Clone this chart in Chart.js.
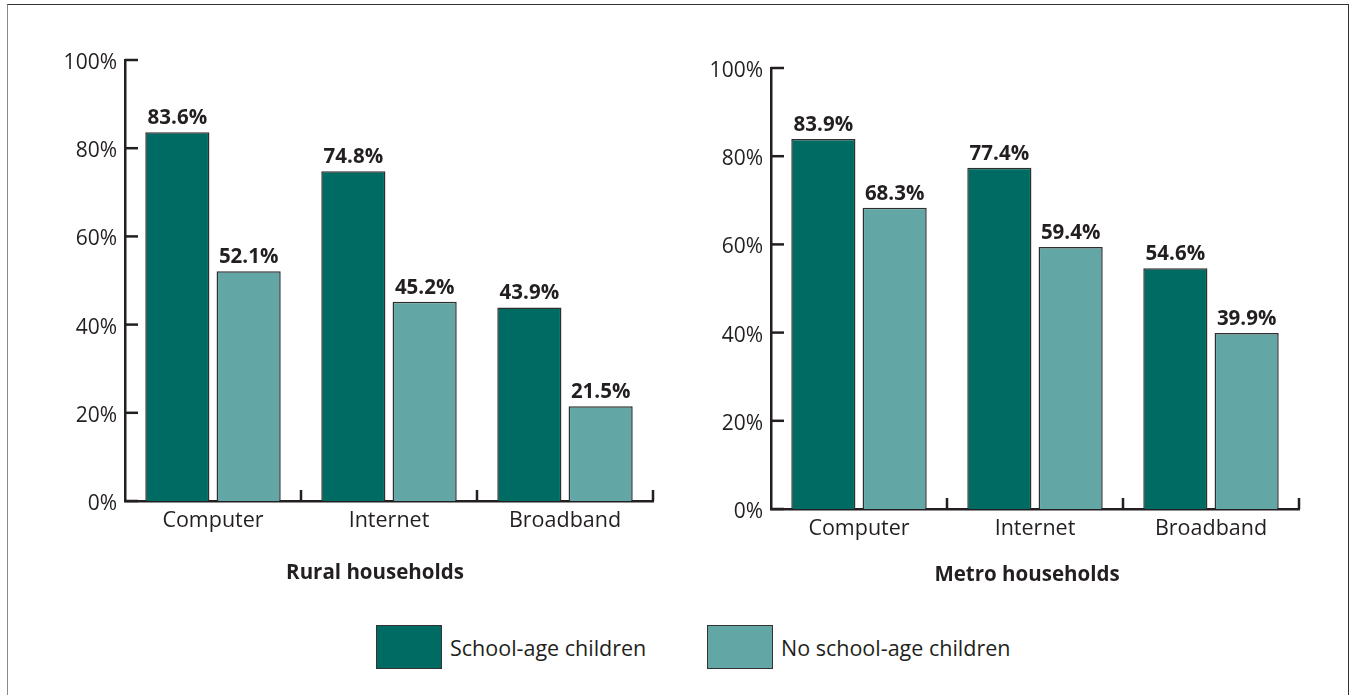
<!DOCTYPE html>
<html>
<head>
<meta charset="utf-8">
<script src="https://cdn.jsdelivr.net/npm/chart.js@4.4.1/dist/chart.umd.min.js"></script>
<style>
  html, body { margin: 0; padding: 0; background: #fff; }
  body { width: 1350px; height: 695px; position: relative; overflow: hidden; font-family: "Open Sans", sans-serif; color: #231f20; }
  .frame { position: absolute; left: 7px; top: 4px; width: 1340px; height: 720px; border: 1.5px solid #333; border-left-color: #8a8a8a; }
  .panel { position: absolute; }
  .legend { position: absolute; top: 625px; display: flex; align-items: center; font-size: 21.5px; }
  .legend span.box { display: inline-block; width: 64px; height: 42px; border: 1.5px solid #333; margin-right: 8px; }
</style>
</head>
<body>
<div class="frame"></div>
<div class="panel" style="left:0px; top:0px;"><canvas id="grafRural" width="680" height="600"></canvas></div>
<div class="panel" style="left:646px; top:8px;"><canvas id="grafMetro" width="680" height="600"></canvas></div>
<div class="legend" style="left:376px;"><span class="box" style="background:#006b63"></span>School-age children</div>
<div class="legend" style="left:707px;"><span class="box" style="background:#62a6a5"></span>No school-age children</div>

<script>
// data
const kategorie = ['Computer', 'Internet', 'Broadband'];
const serie = ['School-age children', 'No school-age children'];
const ruralSkolni = [83.6, 74.8, 43.9];
const ruralBez = [52.1, 45.2, 21.5];
const metroSkolni = [83.9, 77.4, 54.6];
const metroBez = [68.3, 59.4, 39.9];
const yTicky = [0, 20, 40, 60, 80, 100];

const TMAVA = '#006b63';
const SVETLA = '#62a6a5';
const TEXT = '#231f20';

// values above bars, inward tick marks and the panel caption
const popisky = {
    id: 'popisky',
    afterDatasetsDraw(chart) {
        const ctx = chart.ctx;
        ctx.save();
        ctx.fillStyle = TEXT;
        ctx.font = 'bold 20.5px "Open Sans"';
        ctx.textAlign = 'center';
        ctx.textBaseline = 'alphabetic';
        chart.data.datasets.forEach((ds, i) => {
            chart.getDatasetMeta(i).data.forEach((bar, j) => {
                ctx.fillText(ds.data[j].toFixed(1) + '%', bar.x, bar.y - 8);
            });
        });
        ctx.restore();
    },
    afterDraw(chart, args, opts) {
        const {ctx, chartArea: a, scales: {x, y}} = chart;
        ctx.save();
        ctx.strokeStyle = TEXT;
        ctx.lineWidth = 2.5;
        yTicky.forEach(v => {
            const py = y.getPixelForValue(v);
            ctx.beginPath();
            ctx.moveTo(a.left, py);
            ctx.lineTo(a.left + 13, py);
            ctx.stroke();
        });
        const n = kategorie.length;
        for (let i = 1; i <= n; i++) {
            const px = i < n ? (x.getPixelForTick(i - 1) + x.getPixelForTick(i)) / 2 : a.right;
            ctx.beginPath();
            ctx.moveTo(px, a.bottom);
            ctx.lineTo(px, a.bottom - 11);
            ctx.stroke();
        }
        ctx.fillStyle = TEXT;
        ctx.font = 'bold 20.5px "Open Sans"';
        ctx.textAlign = 'center';
        ctx.textBaseline = 'middle';
        ctx.fillText(opts.text, opts.x, opts.y);
        ctx.restore();
    }
};

function graf(id, skolni, bez, nadpis, nadpisX, nadpisY) {
    const ctx = document.getElementById(id).getContext('2d');
    return new Chart(ctx, {
        type: 'bar',
        data: {
            labels: kategorie,
            datasets: [
                { label: serie[0], data: skolni, backgroundColor: TMAVA },
                { label: serie[1], data: bez, backgroundColor: SVETLA }
            ]
        },
        options: {
            responsive: false,
            animation: false,
            categoryPercentage: 0.81,
            barPercentage: 0.9,
            elements: {
                bar: { borderColor: '#2e2e2e', borderWidth: 1.5 }
            },
            layout: {
                padding: { top: 60, right: 27, bottom: 39, left: 0 }
            },
            plugins: {
                legend: { display: false },
                tooltip: { enabled: false },
                popisky: { text: nadpis, x: nadpisX, y: nadpisY }
            },
            scales: {
                y: {
                    min: 0,
                    max: 100,
                    afterFit: s => { s.width = 125; },
                    afterBuildTicks: s => { s.ticks = yTicky.map(v => ({ value: v })); },
                    grid: { display: false, drawTicks: false },
                    border: { color: TEXT, width: 2.5 },
                    ticks: {
                        padding: 8,
                        labelOffset: 3,
                        color: TEXT,
                        font: { family: 'Open Sans', size: 21 },
                        callback: v => v + '%'
                    }
                },
                x: {
                    afterFit: s => { s.height = 60; },
                    grid: { display: false, drawTicks: false },
                    border: { color: TEXT, width: 2.5 },
                    ticks: {
                        padding: 7,
                        color: TEXT,
                        font: { family: 'Open Sans', size: 21.5 }
                    }
                }
            }
        },
        plugins: [popisky]
    });
}

document.fonts.load('21px "Open Sans"').then(() => document.fonts.load('bold 20px "Open Sans"')).then(() => {
    graf('grafRural', ruralSkolni, ruralBez, 'Rural households', 375, 573);
    graf('grafMetro', metroSkolni, metroBez, 'Metro households', 381, 567);
});
</script>
</body>
</html>
